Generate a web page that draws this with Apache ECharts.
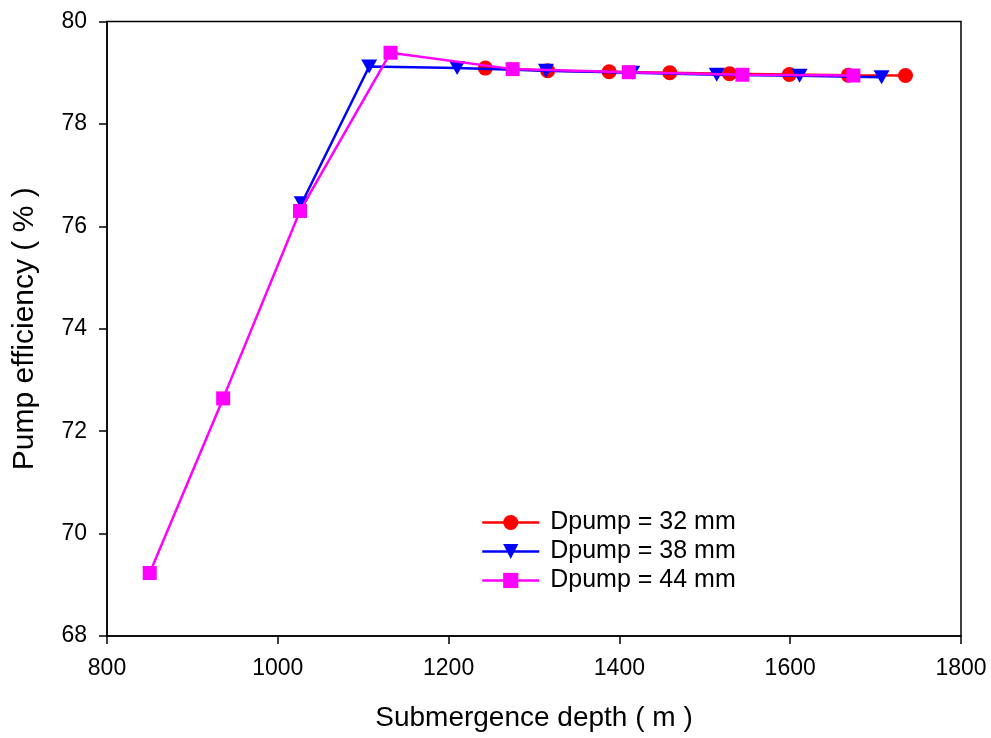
<!DOCTYPE html>
<html>
<head>
<meta charset="utf-8">
<script src="https://cdn.jsdelivr.net/npm/echarts@6/dist/echarts.min.js"></script>
<style>html,body{margin:0;padding:0;background:#fff}#c{width:991px;height:738px}</style>
</head>
<body>
<div id="c"></div>
<script>
const seriesNames = ['Dpump = 32 mm', 'Dpump = 38 mm', 'Dpump = 44 mm'];
const depth32 = [1243, 1316, 1388, 1459, 1529, 1599, 1668, 1735];
const eff32   = [79.09, 79.04, 79.02, 79.00, 78.98, 78.965, 78.95, 78.945];
const depth38 = [1028, 1107, 1210, 1314, 1415, 1514, 1611, 1707];
const eff38   = [76.45, 79.12, 79.09, 79.04, 79.00, 78.96, 78.94, 78.91];
const depth44 = [850, 936, 1026, 1132, 1275, 1411, 1544, 1674];
const eff44   = [69.23, 72.64, 76.30, 79.39, 79.07, 79.01, 78.96, 78.945];
const xTicks = [800, 1000, 1200, 1400, 1600, 1800];
const yTicks = [68, 70, 72, 74, 76, 78, 80];

const zip = (a, b) => a.map((v, i) => [v, b[i]]);
const font = 'Liberation Sans, Arial, sans-serif';
const chart = echarts.init(document.getElementById('c'));
const colors = ['#ff0000', '#0000ff', '#ff00ff'];
const tri = 'path://M0,0 L10,0 L5,9 Z';
const symbols = ['circle', tri, 'rect'];
const sizes = [15, [16, 14], 14];
const datas = [zip(depth32, eff32), zip(depth38, eff38), zip(depth44, eff44)];
chart.setOption({
  animation: false,
  grid: {left: 107, right: 30, top: 21.5, bottom: 102, containLabel: false,
         show: true, borderColor: '#000', borderWidth: 1.5},
  legend: {
    orient: 'vertical', left: 476, top: 505, itemWidth: 57, itemHeight: 19, itemGap: 4,
    textStyle: {fontFamily: font, fontSize: 25, color: '#000', padding: [0, 0, 0, 6]},
    lineStyle: {width: 2.5},
    data: seriesNames
  },
  xAxis: {
    type: 'value', min: xTicks[0], max: xTicks[xTicks.length - 1], interval: 200,
    name: 'Submergence depth ( m )', nameLocation: 'middle', nameGap: 68,
    nameTextStyle: {fontFamily: font, fontSize: 28, color: '#000'},
    axisLine: {show: true, onZero: false, lineStyle: {color: '#000', width: 1.5}},
    axisTick: {show: true, inside: false, length: 8, lineStyle: {color: '#000', width: 1.5}},
    axisLabel: {fontFamily: font, fontSize: 23, color: '#000', margin: 21, formatter: v => String(v)},
    splitLine: {show: false}
  },
  yAxis: {
    type: 'value', min: yTicks[0], max: yTicks[yTicks.length - 1], interval: 2,
    name: 'Pump efficiency ( % )', nameLocation: 'middle', nameGap: 67,
    nameTextStyle: {fontFamily: font, fontSize: 30, color: '#000'},
    axisLine: {show: true, onZero: false, lineStyle: {color: '#000', width: 1.5}},
    axisTick: {show: true, inside: false, length: 8, lineStyle: {color: '#000', width: 1.5}},
    axisLabel: {fontFamily: font, fontSize: 23, color: '#000', margin: 20, formatter: v => String(v)},
    splitLine: {show: false}
  },
  series: seriesNames.map((n, i) => ({
    name: n, type: 'line', data: datas[i],
    symbol: symbols[i],
    symbolSize: sizes[i],
    showAllSymbol: true,
    lineStyle: {color: colors[i], width: 2.5},
    itemStyle: {color: colors[i]},
    z: 2 + i
  }))
});
</script>
</body>
</html>
